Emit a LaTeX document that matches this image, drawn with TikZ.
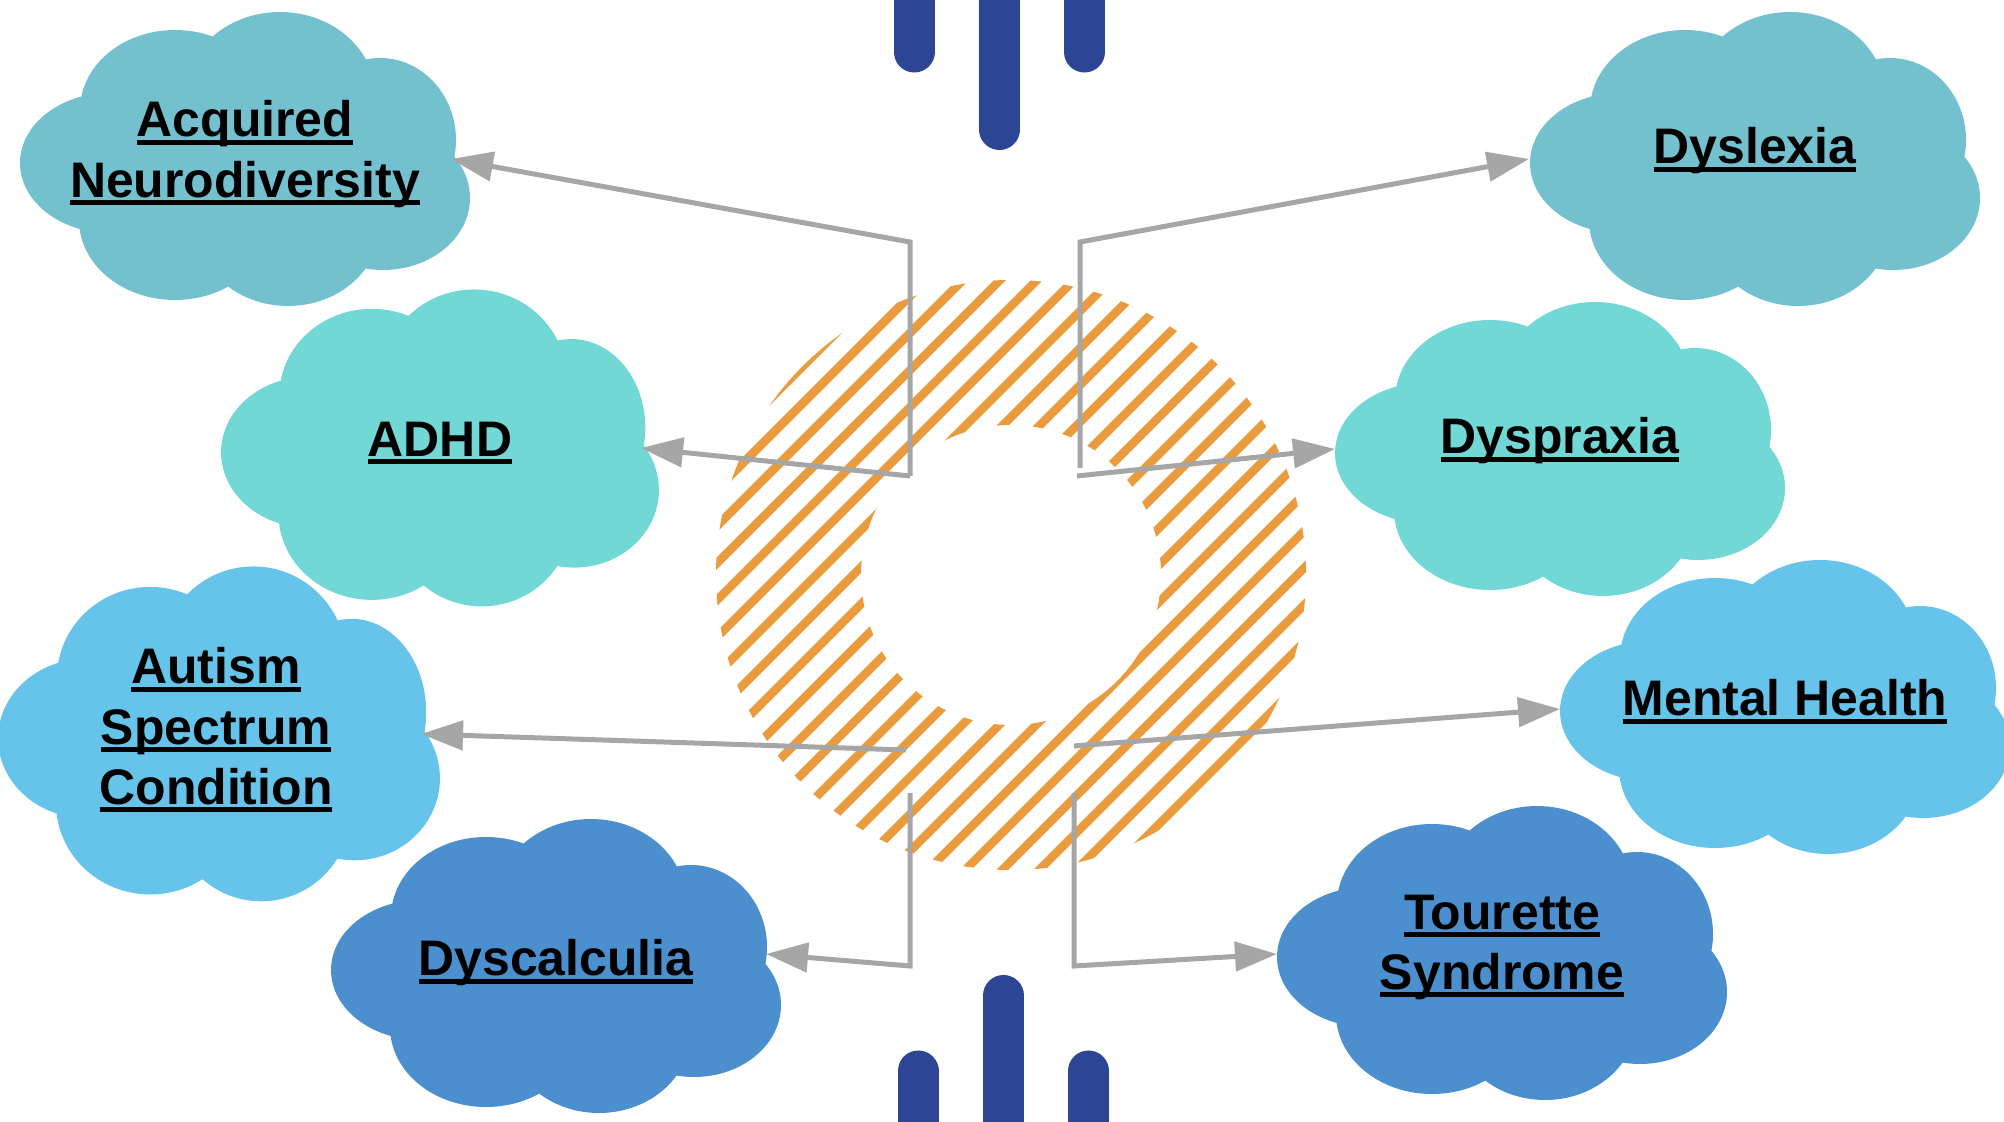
\documentclass[tikz,border=0pt]{standalone}
\usepackage{fontspec}
\setmainfont{Liberation Sans}
\usetikzlibrary{arrows.meta}

\definecolor{cloudteal}{RGB}{115,192,207}
\definecolor{cloudaqua}{RGB}{114,216,214}
\definecolor{cloudsky}{RGB}{102,196,235}
\definecolor{cloudblue}{RGB}{75,143,206}
\definecolor{barblue}{RGB}{44,69,148}
\definecolor{ringorange}{RGB}{234,155,62}
\definecolor{conngray}{RGB}{166,166,166}

% underline at a fixed depth below the baseline
\newcommand{\cloudul}[1]{\setbox0\hbox{#1}\rlap{\rule[-2.35pt]{\wd0}{1.55pt}}\box0}
% puffs of one cloud: x/y/x radius/y radius, for a 450 x 295 cloud
\newcommand{\puffs}{-135/3/90/70, -70/-50/95/80, 35/-65/95/83, 135/-20/76/82,
  138/38/87/72, 43/65/92/81, -70/60/96/80, 0/0/150/100}
\newcommand{\cloudat}[4]{\fill[#4,shift={#1},xscale=#2,yscale=#3]
  \foreach \cx/\cy/\rx/\ry in \puffs {(\cx,\cy) ellipse [x radius=\rx, y radius=\ry]};}

\begin{document}
\begin{tikzpicture}[x=0.01cm, y=-0.01cm,
  cloudtext/.style={font=\fontsize{14.2}{17.1}\selectfont\bfseries, align=center, inner sep=0pt, anchor=north},
  conn/.style={draw=conngray, line width=0.05cm, -{Triangle[length=0.42cm,width=0.29cm]}},
  barline/.style={draw=barblue, line width=0.41cm, line cap=round}]

 \useasboundingbox (0,0) rectangle (2004,1122);

 % clouds
 \cloudat{(245,160)}{1}{1}{cloudteal}
 \cloudat{(1755,160)}{1}{1}{cloudteal}
 \cloudat{(440,449)}{0.973}{1.078}{cloudaqua}
 \cloudat{(1560,450)}{1}{1}{cloudaqua}
 \cloudat{(219,735)}{0.982}{1.139}{cloudsky}
 \cloudat{(1785,708)}{1}{1}{cloudsky}
 \cloudat{(556,967)}{1}{1}{cloudblue}
 \cloudat{(1502,954)}{1}{1}{cloudblue}

 % hatched ring
 \begin{scope}[even odd rule]
  \clip (1011,575) circle (295) (1011,575) circle (150);
  \foreach \k in {-17,...,5}
   \draw[ringorange, line width=0.085cm] (700,1798+37*\k-700) -- (1320,1798+37*\k-1320);
 \end{scope}

 % bars
 \draw[barline] (914,-40) -- (914,52);
 \draw[barline] (999.5,-40) -- (999.5,129.5);
 \draw[barline] (1084.5,-40) -- (1084.5,52);
 \draw[barline] (918,1160) -- (918,1071);
 \draw[barline] (1003.5,1160) -- (1003.5,995.5);
 \draw[barline] (1088.5,1160) -- (1088.5,1071);

 \coordinate (hubnw) at (910,476);
 \coordinate (kneenw) at (910,242);
 \coordinate (topne) at (1080,468);
 \coordinate (kneene) at (1080,242);
 \coordinate (startne) at (1077,476);
 \coordinate (startsw) at (906,750);
 \coordinate (topsw) at (910,793);
 \coordinate (kneesw) at (910,966);
 \coordinate (startse) at (1074,746);
 \coordinate (topse) at (1074,793);
 \coordinate (kneese) at (1074,966);

 \coordinate (acqtip) at (451,159);
 \coordinate (dysltip) at (1529,159);
 \coordinate (adhdtip) at (641,448);
 \coordinate (dysptip) at (1335,449);
 \coordinate (asctip) at (421,734);
 \coordinate (mhtip) at (1560,709);
 \coordinate (dyscalctip) at (766,954);
 \coordinate (tstip) at (1277,954);

 \draw[conn] (hubnw) -- (kneenw) -- (acqtip);
 \draw[conn] (hubnw) -- (adhdtip);
 \draw[conn] (topne) -- (kneene) -- (dysltip);
 \draw[conn] (startne) -- (dysptip);
 \draw[conn] (startsw) -- (asctip);
 \draw[conn] (topsw) -- (kneesw) -- (dyscalctip);
 \draw[conn] (startse) -- (mhtip);
 \draw[conn] (topse) -- (kneese) -- (tstip);

 \node[cloudtext] (acq) at (245,100) {\cloudul{Acquired}\\\cloudul{Neurodiversity}};
 \node[cloudtext] (dysl) at (1755,127) {\cloudul{Dyslexia}};
 \node[cloudtext] (adhd) at (440,421) {\cloudul{ADHD}};
 \node[cloudtext] (dysp) at (1560,417) {\cloudul{Dyspraxia}};
 \node[cloudtext] (asc) at (216,647) {\cloudul{Autism}\\\cloudul{Spectrum}\\\cloudul{Condition}};
 \node[cloudtext] (mh) at (1785,679) {\cloudul{Mental Health}};
 \node[cloudtext] (dyscalc) at (556,939) {\cloudul{Dyscalculia}};
 \node[cloudtext] (ts) at (1502,894) {\cloudul{Tourette}\\\cloudul{Syndrome}};

\end{tikzpicture}
\end{document}
